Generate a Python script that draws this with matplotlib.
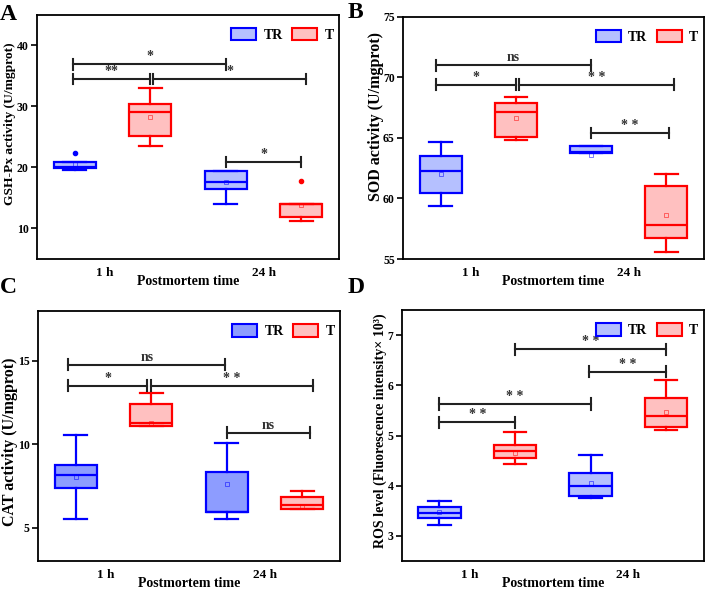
import numpy as np
import matplotlib
matplotlib.use('Agg')
import matplotlib.pyplot as plt
from matplotlib.patches import Patch

plt.rcParams['font.family'] = ['Liberation Serif', 'DejaVu Serif']
plt.rcParams['font.weight'] = 'bold'
plt.rcParams['axes.labelweight'] = 'bold'

groups = ['1 h', '24 h']

# five-number summaries per group: whislo, q1, median, q3, whishi
gsh_tr = [[19.55, 19.85, 20.0, 20.85, 20.85], [14.05, 16.5, 17.7, 19.36, 19.5]]
gsh_t = [[23.5, 25.1, 29.1, 30.4, 33.1], [11.3, 11.87, 13.95, 14.06, 14.06]]
gsh_tr_mean = [20.5, 17.55]
gsh_t_mean = [28.2, 13.9]
gsh_tr_out = [[22.3], []]
gsh_t_out = [[], [17.8]]
gsh_sig = [(0.74, 1.75, 36.9, '*'), (0.74, 1.25, 34.5, '**'),
           (1.27, 2.28, 34.5, '*'), (1.75, 2.25, 20.9, '*')]

sod_tr = [[59.4, 60.45, 62.25, 63.5, 64.7], [63.8, 63.8, 63.85, 64.35, 64.35]]
sod_t = [[64.8, 65.1, 67.15, 67.9, 68.4], [55.55, 56.7, 57.8, 61.0, 62.05]]
sod_tr_mean = [62.05, 63.6]
sod_t_mean = [66.65, 58.65]
sod_sig = [(0.72, 1.75, 71.0, 'ns'), (0.72, 1.25, 69.4, '*'),
           (1.27, 2.30, 69.4, '* *'), (1.75, 2.27, 65.4, '* *')]

cat_tr = [[5.5, 7.38, 8.14, 8.75, 10.56], [5.52, 5.92, 5.95, 8.32, 10.06]]
cat_t = [[11.1, 11.1, 11.26, 12.41, 13.06], [6.1, 6.11, 6.37, 6.82, 7.22]]
cat_tr_mean = [8.02, 7.64]
cat_t_mean = [11.26, 6.27]
cat_sig = [(0.70, 1.74, 14.76, 'ns'), (0.70, 1.22, 13.5, '*'),
           (1.25, 2.32, 13.5, '* *'), (1.75, 2.30, 10.7, 'ns')]

ros_tr = [[3.22, 3.36, 3.46, 3.58, 3.70], [3.76, 3.79, 3.99, 4.26, 4.62]]
ros_t = [[4.44, 4.55, 4.69, 4.81, 5.07], [5.12, 5.17, 5.39, 5.74, 6.10]]
ros_tr_mean = [3.48, 4.06]
ros_t_mean = [4.65, 5.48]
ros_sig = [(1.25, 2.25, 6.72, '* *'), (1.74, 2.25, 6.27, '* *'),
           (0.75, 1.75, 5.63, '* *'), (0.75, 1.25, 5.27, '* *')]


def stats(five, means, outs):
    res = []
    for f, m, o in zip(five, means, outs):
        res.append(dict(whislo=f[0], q1=f[1], med=f[2], q3=f[3], whishi=f[4],
                        mean=m, fliers=o))
    return res


def panel(ax, tr, t, tr_mean, t_mean, tr_out, t_out, sig, ylim, yticks,
          ylabel, ylab_size, ylab_xy, tr_fill='#b5c0ff'):
    pos = np.arange(1, len(groups) + 1)
    for data, means, outs, off, edge, fill in [
            (tr, tr_mean, tr_out, -0.25, '#0000ff', tr_fill),
            (t, t_mean, t_out, 0.25, '#ff0000', '#ffc0c0')]:
        ax.bxp(stats(data, means, outs), positions=pos + off, widths=0.28,
               patch_artist=True, showmeans=True, showfliers=True,
               boxprops=dict(facecolor=fill, edgecolor=edge, linewidth=1.6),
               medianprops=dict(color=edge, linewidth=1.6),
               whiskerprops=dict(color=edge, linewidth=1.6),
               capprops=dict(color=edge, linewidth=1.6),
               capwidths=0.15,
               meanprops=dict(marker='s', markersize=2.5, markerfacecolor='none',
                              markeredgecolor=edge, markeredgewidth=0.6, alpha=0.6),
               flierprops=dict(marker='o', markersize=3, markerfacecolor=edge,
                               markeredgecolor=edge))
    span = ylim[1] - ylim[0]
    for x1, x2, y, lab in sig:
        ax.plot([x1, x2], [y, y], color='#222222', lw=1.5)
        for xx in (x1, x2):
            ax.plot([xx, xx], [y - span * 0.022, y + span * 0.022],
                    color='#222222', lw=1.5)
        ax.text((x1 + x2) / 2, y + span * 0.004, lab, ha='center', va='bottom',
                fontsize=10, color='#333333')
    ax.set_xlim(0.5, 2.5)
    ax.set_ylim(*ylim)
    ax.set_yticks(yticks)
    # group labels sit a little left of the group centre, as in the original
    ax.set_xticks(pos - [0.05, 0.0])
    ax.set_xticklabels(groups, fontsize=9.5)
    ax.tick_params(axis='y', direction='out', length=4, width=1.2, pad=2,
                   labelsize=8.5)
    ax.tick_params(axis='x', length=0, pad=6)
    for s in ax.spines.values():
        s.set_linewidth(1.3)
    ax.set_ylabel(ylabel, fontsize=ylab_size)
    ax.yaxis.set_label_coords(*ylab_xy)
    ax.set_xlabel('Postmortem time', fontsize=10)
    ax.xaxis.set_label_coords(0.5, -0.065)
    handles = [Patch(facecolor=tr_fill, edgecolor='#0000ff', linewidth=1.5, label='TR'),
               Patch(facecolor='#ffc0c0', edgecolor='#ff0000', linewidth=1.5, label='T')]
    ax.legend(handles=handles, loc='upper right', bbox_to_anchor=(1.005, 0.975),
              ncol=2, frameon=False, fontsize=10, handlelength=1.8,
              handleheight=1.0, columnspacing=0.7, handletextpad=0.5,
              borderaxespad=0.1)


fig = plt.figure(figsize=(7.06, 5.92), dpi=100)
axA = fig.add_axes([0.0524, 0.5625, 0.4278, 0.4122])
axB = fig.add_axes([0.571, 0.5625, 0.426, 0.4088])
axC = fig.add_axes([0.0538, 0.0524, 0.4278, 0.4223])
axD = fig.add_axes([0.569, 0.0524, 0.428, 0.4236])

panel(axA, gsh_tr, gsh_t, gsh_tr_mean, gsh_t_mean, gsh_tr_out, gsh_t_out,
      gsh_sig, (5, 45), [10, 20, 30, 40], 'GSH-Px activity (U/mgprot)',
      9.7, (-0.07, 0.555))
panel(axB, sod_tr, sod_t, sod_tr_mean, sod_t_mean, [[], []], [[], []],
      sod_sig, (55, 75), [55, 60, 65, 70, 75], 'SOD activity (U/mgprot)',
      11.5, (-0.065, 0.587))
panel(axC, cat_tr, cat_t, cat_tr_mean, cat_t_mean, [[], []], [[], []],
      cat_sig, (3, 18), [5, 10, 15], 'CAT activity (U/mgprot)',
      11.5, (-0.065, 0.476), tr_fill='#8d9cff')
panel(axD, ros_tr, ros_t, ros_tr_mean, ros_t_mean, [[], []], [[], []],
      ros_sig, (2.5, 7.5), [3, 4, 5, 6, 7],
      'ROS level (Fluorescence intensity× 10³)', 10.1, (-0.05, 0.518))

for letter, x, y in [('A', 0.0, 0.993), ('B', 0.493, 0.996),
                     ('C', 0.0, 0.532), ('D', 0.493, 0.532)]:
    fig.text(x, y, letter, fontsize=17, fontweight='bold', va='top')

fig.savefig('out.png', dpi=100)
